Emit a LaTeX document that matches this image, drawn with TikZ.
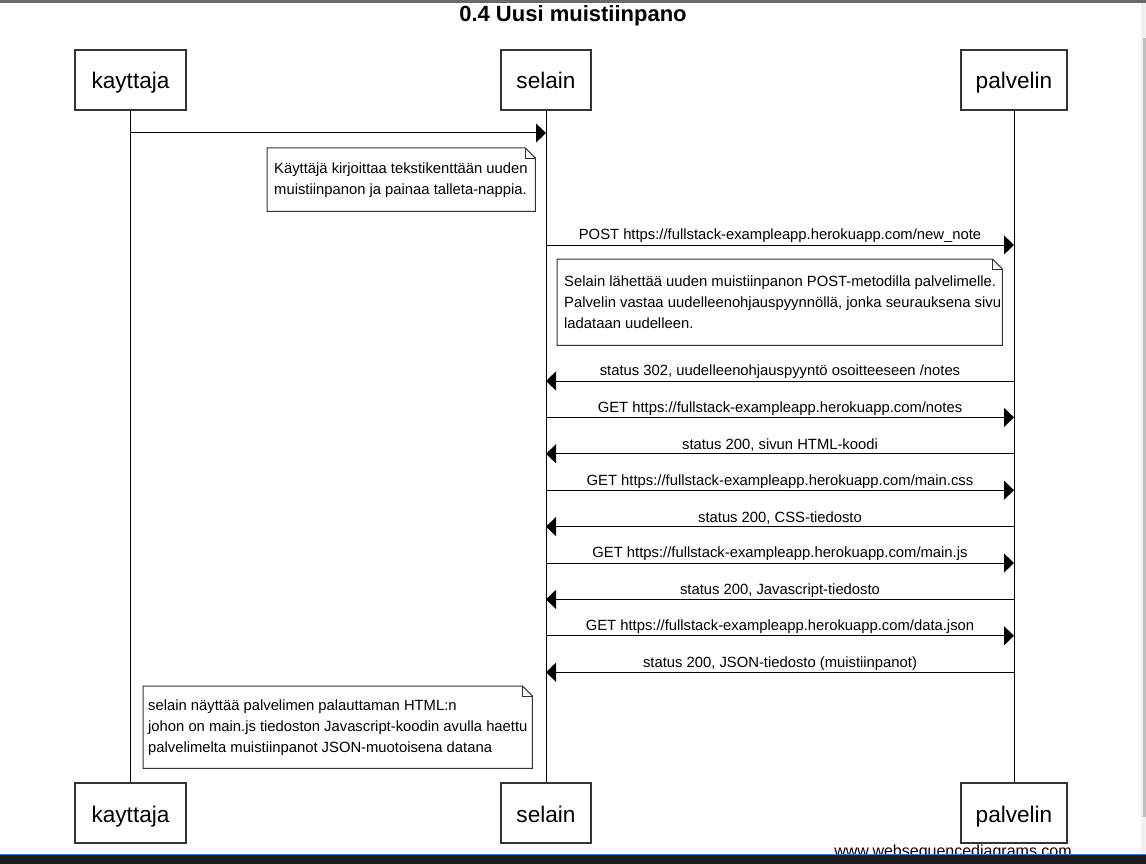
\documentclass[tikz,border=0pt]{standalone}
\usepackage{fontspec}
\setmainfont{Liberation Sans}
\usetikzlibrary{arrows.meta}

\definecolor{framegray}{HTML}{333333}
\definecolor{barbg}{HTML}{6A6A6A}
\definecolor{taskbar}{HTML}{1D1D1F}
\definecolor{taskline}{HTML}{3B78C0}
\definecolor{scrolltrack}{HTML}{F1F1F1}
\definecolor{scrollthumb}{HTML}{C1C1C1}

\tikzset{
	actor/.style={draw=framegray, line width=1.1pt, minimum width=#1, minimum height=60pt, inner sep=0pt, text height=22pt, text depth=4pt, font=\fontsize{22.6}{26}\selectfont},
	life/.style={line width=0.9pt},
	msg/.style={line width=1pt, -{Triangle[length=10pt,width=19pt]}},
	msglabel/.style={midway, above, inner sep=1.5pt, font=\fontsize{14.8}{17}\selectfont},
	notebox/.style 2 args={anchor=north west, minimum width=#1, minimum height=#2, inner sep=0pt},
	notetext/.style={anchor=west, inner sep=0pt, align=left, font=\fontsize{14.8}{21}\selectfont},
	noteframe/.style={draw=framegray, line width=1pt, fill=white}
}

\newcommand{\dogear}[1]{%
	\draw[noteframe] (#1.north west) -- ([xshift=-10pt]#1.north east) -- ([yshift=-10pt]#1.north east) -- (#1.south east) -- (#1.south west) -- cycle;
	\draw[line width=0.8pt, draw=framegray] ([xshift=-10pt]#1.north east) -- ([xshift=-10pt,yshift=-10pt]#1.north east) -- ([yshift=-10pt]#1.north east);
}

\begin{document}
\begin{tikzpicture}[x=1pt, y=-1pt]
	
	\useasboundingbox (0,0) rectangle (1146,864);
	\fill[white] (0,0) rectangle (1146,864);
	\fill[barbg] (0,0) rectangle (1146,3);
	\fill[scrolltrack] (1141,3) rectangle (1146,855);
	\fill[scrollthumb] (1143,38) rectangle (1146,817);
	
	\node[font=\bfseries\fontsize{22}{24}\selectfont] (title) at (573,16) {0.4 Uusi muistiinpano};
	
	\node[actor=111pt] (kt) at (130.5,80) {kayttaja};
	\node[actor=90pt] (st) at (546,80) {selain};
	\node[actor=106pt] (pt) at (1014,80) {palvelin};
	\node[actor=111pt] (kb) at (130.5,813) {kayttaja};
	\node[actor=90pt] (sb) at (546,813) {selain};
	\node[actor=106pt] (pb) at (1014,813) {palvelin};
	
	\draw[life] (kt) -- (kb);
	\draw[life] (st) -- (sb);
	\draw[life] (pt) -- (pb);
	
	\draw[msg] (kt |- 0,133) -- (st |- 0,133);
	
	\node[notebox={268pt}{63pt}] (n1) at (267,148) {};
	\dogear{n1}
	\node[notetext] (n1text) at ([xshift=7pt]n1.west) {Käyttäjä kirjoittaa tekstikenttään uuden\\muistiinpanon ja painaa talleta-nappia.};
	
	\draw[msg] (st |- 0,245) -- (pt |- 0,245) node[msglabel] {POST https://fullstack-exampleapp.herokuapp.com/new\_note};
	
	\node[notebox={445pt}{86pt}] (n2) at (557,259) {};
	\dogear{n2}
	\node[notetext] (n2text) at ([xshift=7pt]n2.west) {Selain lähettää uuden muistiinpanon POST-metodilla palvelimelle.\\Palvelin vastaa uudelleenohjauspyynnöllä, jonka seurauksena sivu\\ladataan uudelleen.};
	
	\draw[msg] (pt |- 0,381) -- (st |- 0,381) node[msglabel] {status 302, uudelleenohjauspyyntö osoitteeseen /notes};
	\draw[msg] (st |- 0,417.4) -- (pt |- 0,417.4) node[msglabel] {GET https://fullstack-exampleapp.herokuapp.com/notes};
	\draw[msg] (pt |- 0,453.8) -- (st |- 0,453.8) node[msglabel] {status 200, sivun HTML-koodi};
	\draw[msg] (st |- 0,490.2) -- (pt |- 0,490.2) node[msglabel] {GET https://fullstack-exampleapp.herokuapp.com/main.css};
	\draw[msg] (pt |- 0,526.6) -- (st |- 0,526.6) node[msglabel] {status 200, CSS-tiedosto};
	\draw[msg] (st |- 0,563) -- (pt |- 0,563) node[msglabel] {GET https://fullstack-exampleapp.herokuapp.com/main.js};
	\draw[msg] (pt |- 0,599.4) -- (st |- 0,599.4) node[msglabel] {status 200, Javascript-tiedosto};
	\draw[msg] (st |- 0,635.8) -- (pt |- 0,635.8) node[msglabel] {GET https://fullstack-exampleapp.herokuapp.com/data.json};
	\draw[msg] (pt |- 0,672.2) -- (st |- 0,672.2) node[msglabel] {status 200, JSON-tiedosto (muistiinpanot)};
	
	\node[notebox={389pt}{82pt}] (n3) at (143,686) {};
	\dogear{n3}
	\node[notetext] (n3text) at ([xshift=5pt]n3.west) {selain näyttää palvelimen palauttaman HTML:n\\johon on main.js tiedoston Javascript-koodin avulla haettu\\palvelimelta muistiinpanot JSON-muotoisena datana};
	
	\node[font=\fontsize{16}{18}\selectfont, anchor=base] (wsd) at (953,856) {www.websequencediagrams.com};
	\fill[taskbar] (0,855) rectangle (1146,864);
	\fill[taskline] (0,854) rectangle (1146,855.2);
	
\end{tikzpicture}
\end{document}
